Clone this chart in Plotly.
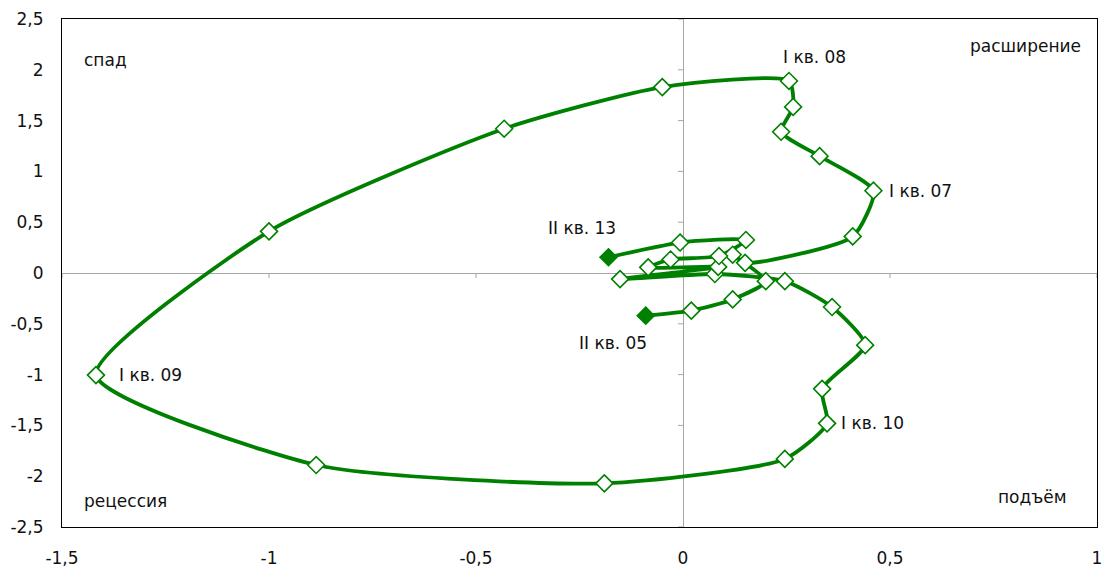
import plotly.graph_objects as go

quarters = ["II кв. 05", "III кв. 05", "IV кв. 05",
            "I кв. 06", "II кв. 06", "III кв. 06", "IV кв. 06",
            "I кв. 07", "II кв. 07", "III кв. 07", "IV кв. 07",
            "I кв. 08", "II кв. 08", "III кв. 08", "IV кв. 08",
            "I кв. 09", "II кв. 09", "III кв. 09", "IV кв. 09",
            "I кв. 10", "II кв. 10", "III кв. 10", "IV кв. 10",
            "I кв. 11", "II кв. 11", "III кв. 11", "IV кв. 11",
            "I кв. 12", "II кв. 12", "III кв. 12", "IV кв. 12",
            "I кв. 13", "II кв. 13"]

x_vals = [-0.09, 0.02, 0.12,
          0.20, 0.12, 0.15, 0.41,
          0.46, 0.33, 0.237, 0.266,
          0.256, -0.05, -0.432, -1.0,
          -1.418, -0.886, -0.19, 0.246,
          0.348, 0.336, 0.44, 0.36,
          0.246, 0.077, -0.152, 0.085,
          -0.084, -0.03, 0.087, 0.152,
          -0.007, -0.18]

y_vals = [-0.42, -0.37, -0.26,
          -0.08, 0.18, 0.10, 0.36,
          0.81, 1.15, 1.39, 1.635,
          1.89, 1.83, 1.42, 0.41,
          -1.005, -1.89, -2.07, -1.83,
          -1.48, -1.14, -0.71, -0.335,
          -0.08, -0.01, -0.06, 0.06,
          0.056, 0.133, 0.167, 0.325,
          0.30, 0.155]

labeled = ["II кв. 05", "I кв. 07", "I кв. 08", "I кв. 09", "I кв. 10", "II кв. 13"]
quadrants = ["спад", "расширение", "рецессия", "подъём"]

x_ticks = [-1.5, -1, -0.5, 0, 0.5, 1]
x_ticktext = ["-1,5", "-1", "-0,5", "0", "0,5", "1"]
y_ticks = [-2.5, -2, -1.5, -1, -0.5, 0, 0.5, 1, 1.5, 2, 2.5]
y_ticktext = ["-2,5", "-2", "-1,5", "-1", "-0,5", "0", "0,5", "1", "1,5", "2", "2,5"]

GREEN = "#008000"
FONT = "DejaVu Sans"
TXT = "#111111"
AXIS_GRAY = "#a6a6a6"

fill = [GREEN if i in (0, len(x_vals) - 1) else "white" for i in range(len(x_vals))]

fig = go.Figure()

# small tick marks on the zero axes (Excel style)
for yt in y_ticks:
    fig.add_shape(type="line", xref="x", yref="y", xsizemode="pixel", xanchor=0,
                  x0=-5, x1=0, y0=yt, y1=yt, line=dict(color=AXIS_GRAY, width=1),
                  layer="below")
for xt in x_ticks:
    fig.add_shape(type="line", xref="x", yref="y", ysizemode="pixel", yanchor=0,
                  y0=-5, y1=0, x0=xt, x1=xt, line=dict(color=AXIS_GRAY, width=1),
                  layer="below")

fig.add_trace(go.Scatter(
    x=x_vals, y=y_vals, text=quarters, mode="lines+markers",
    line=dict(color=GREEN, width=3.8, shape="spline", smoothing=0.6),
    marker=dict(symbol="diamond", size=13, color=fill,
                line=dict(color=GREEN, width=1.6)),
    hoverinfo="text+x+y", showlegend=False,
))

# point label placement (offsets in px)
offsets = {
    "II кв. 05": ("right", 3, -27),
    "I кв. 07": ("left", 14, 0),
    "I кв. 08": ("left", -8, 24),
    "I кв. 09": ("left", 21, 0),
    "I кв. 10": ("left", 12, 0),
    "II кв. 13": ("right", 10, 29),
}
for q in labeled:
    i = quarters.index(q)
    xa, xs, ys = offsets[q]
    fig.add_annotation(x=x_vals[i], y=y_vals[i], text=q, showarrow=False,
                       xanchor=xa, yanchor="middle", xshift=xs, yshift=ys,
                       font=dict(family=FONT, size=17, color=TXT))

quad_pos = [(0.0193, 0.919, "left"), (0.9865, 0.947, "right"),
            (0.0193, 0.051, "left"), (0.973, 0.059, "right")]
for t, (px, py, xa) in zip(quadrants, quad_pos):
    fig.add_annotation(x=px, y=py, xref="paper", yref="paper", text=t,
                       showarrow=False, xanchor=xa, yanchor="middle",
                       font=dict(family=FONT, size=17, color=TXT))

fig.update_layout(
    width=1102, height=570,
    margin=dict(l=62, r=5, t=19, b=43, autoexpand=False),
    paper_bgcolor="white", plot_bgcolor="white",
    font=dict(family=FONT, size=17, color=TXT),
)
fig.update_xaxes(range=[-1.5, 1], tickvals=x_ticks, ticktext=x_ticktext,
                 showgrid=False, automargin=False, ticklabeloverflow="allow",
                 zeroline=True, zerolinecolor=AXIS_GRAY, zerolinewidth=1,
                 showline=True, linecolor="black", linewidth=1, mirror=True,
                 ticks="", ticklabelstandoff=16,
                 tickfont=dict(family=FONT, size=17, color=TXT))
fig.update_yaxes(range=[-2.5, 2.5], tickvals=y_ticks, ticktext=y_ticktext,
                 showgrid=False, automargin=False, ticklabeloverflow="allow",
                 zeroline=True, zerolinecolor=AXIS_GRAY, zerolinewidth=1,
                 showline=True, linecolor="black", linewidth=1, mirror=True,
                 ticks="", ticklabelstandoff=14,
                 tickfont=dict(family=FONT, size=17, color=TXT))

fig.write_html("out.html", config={"displayModeBar": False},
               post_script="document.body.style.margin='0';document.body.style.overflow='hidden';")
